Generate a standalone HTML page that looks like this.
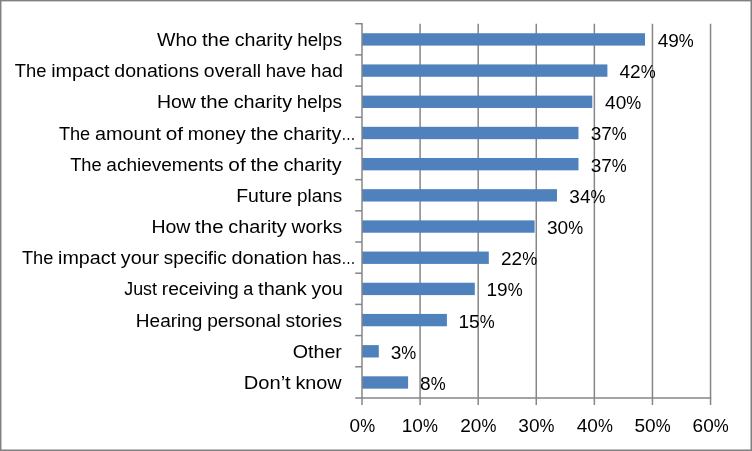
<!DOCTYPE html>
<html lang="en"><head><meta charset="utf-8"><title>Chart</title>
<style>
html,body{margin:0;padding:0;background:#fff;}
body{width:752px;height:451px;overflow:hidden;}
svg{display:block;}
text{font-family:"Liberation Sans",sans-serif;font-size:18.3px;fill:#000;white-space:pre;}
</style></head><body>
<svg width="752" height="451" viewBox="0 0 752 451">
<rect x="0" y="0" width="752" height="451" fill="#fff"/>

<line x1="420.09" y1="23.70" x2="420.09" y2="404.95" stroke="#868686" stroke-width="1.5"/>
<line x1="478.18" y1="23.70" x2="478.18" y2="404.95" stroke="#868686" stroke-width="1.5"/>
<line x1="536.27" y1="23.70" x2="536.27" y2="404.95" stroke="#868686" stroke-width="1.5"/>
<line x1="594.36" y1="23.70" x2="594.36" y2="404.95" stroke="#868686" stroke-width="1.5"/>
<line x1="652.45" y1="23.70" x2="652.45" y2="404.95" stroke="#868686" stroke-width="1.5"/>
<line x1="710.54" y1="23.70" x2="710.54" y2="404.95" stroke="#868686" stroke-width="1.5"/>
<rect x="362.00" y="33.24" width="283.00" height="12.35" fill="#4f81bd"/>
<rect x="362.00" y="64.43" width="245.40" height="12.35" fill="#4f81bd"/>
<rect x="362.00" y="95.62" width="230.30" height="12.35" fill="#4f81bd"/>
<rect x="362.00" y="126.81" width="216.50" height="12.35" fill="#4f81bd"/>
<rect x="362.00" y="157.99" width="216.50" height="12.35" fill="#4f81bd"/>
<rect x="362.00" y="189.18" width="195.00" height="12.35" fill="#4f81bd"/>
<rect x="362.00" y="220.37" width="172.60" height="12.35" fill="#4f81bd"/>
<rect x="362.00" y="251.56" width="126.80" height="12.35" fill="#4f81bd"/>
<rect x="362.00" y="282.74" width="112.80" height="12.35" fill="#4f81bd"/>
<rect x="362.00" y="313.93" width="84.90" height="12.35" fill="#4f81bd"/>
<rect x="362.00" y="345.12" width="16.80" height="12.35" fill="#4f81bd"/>
<rect x="362.00" y="376.31" width="46.10" height="12.35" fill="#4f81bd"/>
<line x1="362.00" y1="23.00" x2="362.00" y2="404.95" stroke="#868686" stroke-width="1.5"/>
<line x1="355.20" y1="397.95" x2="711.24" y2="397.95" stroke="#868686" stroke-width="1.5"/>
<line x1="355.20" y1="23.70" x2="362.00" y2="23.70" stroke="#868686" stroke-width="1.5"/>
<line x1="355.20" y1="54.89" x2="362.00" y2="54.89" stroke="#868686" stroke-width="1.5"/>
<line x1="355.20" y1="86.08" x2="362.00" y2="86.08" stroke="#868686" stroke-width="1.5"/>
<line x1="355.20" y1="117.26" x2="362.00" y2="117.26" stroke="#868686" stroke-width="1.5"/>
<line x1="355.20" y1="148.45" x2="362.00" y2="148.45" stroke="#868686" stroke-width="1.5"/>
<line x1="355.20" y1="179.64" x2="362.00" y2="179.64" stroke="#868686" stroke-width="1.5"/>
<line x1="355.20" y1="210.82" x2="362.00" y2="210.82" stroke="#868686" stroke-width="1.5"/>
<line x1="355.20" y1="242.01" x2="362.00" y2="242.01" stroke="#868686" stroke-width="1.5"/>
<line x1="355.20" y1="273.20" x2="362.00" y2="273.20" stroke="#868686" stroke-width="1.5"/>
<line x1="355.20" y1="304.39" x2="362.00" y2="304.39" stroke="#868686" stroke-width="1.5"/>
<line x1="355.20" y1="335.57" x2="362.00" y2="335.57" stroke="#868686" stroke-width="1.5"/>
<line x1="355.20" y1="366.76" x2="362.00" y2="366.76" stroke="#868686" stroke-width="1.5"/>
<text y="45.99"><tspan x="157.00" textLength="40.22" lengthAdjust="spacingAndGlyphs">Who</tspan> <tspan x="201.90" textLength="28.12" lengthAdjust="spacingAndGlyphs">the</tspan> <tspan x="234.70" textLength="57.84" lengthAdjust="spacingAndGlyphs">charity</tspan> <tspan x="297.23" textLength="44.81" lengthAdjust="spacingAndGlyphs">helps</tspan></text>
<text y="77.18"><tspan x="14.79" textLength="31.63" lengthAdjust="spacingAndGlyphs">The</tspan> <tspan x="51.16" textLength="58.44" lengthAdjust="spacingAndGlyphs">impact</tspan> <tspan x="114.34" textLength="84.79" lengthAdjust="spacingAndGlyphs">donations</tspan> <tspan x="203.87" textLength="57.15" lengthAdjust="spacingAndGlyphs">overall</tspan> <tspan x="265.75" textLength="40.36" lengthAdjust="spacingAndGlyphs">have</tspan> <tspan x="310.85" textLength="32.04" lengthAdjust="spacingAndGlyphs">had</tspan></text>
<text y="108.37"><tspan x="156.94" textLength="38.91" lengthAdjust="spacingAndGlyphs">How</tspan> <tspan x="200.57" textLength="28.38" lengthAdjust="spacingAndGlyphs">the</tspan> <tspan x="233.68" textLength="58.38" lengthAdjust="spacingAndGlyphs">charity</tspan> <tspan x="296.79" textLength="45.24" lengthAdjust="spacingAndGlyphs">helps</tspan></text>
<text y="139.56"><tspan x="58.89" textLength="31.36" lengthAdjust="spacingAndGlyphs">The</tspan> <tspan x="94.95" textLength="66.07" lengthAdjust="spacingAndGlyphs">amount</tspan> <tspan x="165.71" textLength="17.29" lengthAdjust="spacingAndGlyphs">of</tspan> <tspan x="187.69" textLength="58.05" lengthAdjust="spacingAndGlyphs">money</tspan> <tspan x="250.44" textLength="28.20" lengthAdjust="spacingAndGlyphs">the</tspan> <tspan x="283.33" textLength="58.00" lengthAdjust="spacingAndGlyphs">charity</tspan><tspan x="341.33" textLength="14.34" lengthAdjust="spacingAndGlyphs">…</tspan></text>
<text y="170.74"><tspan x="70.19" textLength="31.47" lengthAdjust="spacingAndGlyphs">The</tspan> <tspan x="106.37" textLength="117.27" lengthAdjust="spacingAndGlyphs">achievements</tspan> <tspan x="228.35" textLength="17.35" lengthAdjust="spacingAndGlyphs">of</tspan> <tspan x="250.41" textLength="28.30" lengthAdjust="spacingAndGlyphs">the</tspan> <tspan x="283.42" textLength="58.20" lengthAdjust="spacingAndGlyphs">charity</tspan></text>
<text y="201.93"><tspan x="236.24" textLength="56.10" lengthAdjust="spacingAndGlyphs">Future</tspan> <tspan x="297.08" textLength="45.05" lengthAdjust="spacingAndGlyphs">plans</tspan></text>
<text y="233.12"><tspan x="151.43" textLength="38.96" lengthAdjust="spacingAndGlyphs">How</tspan> <tspan x="195.13" textLength="28.43" lengthAdjust="spacingAndGlyphs">the</tspan> <tspan x="228.29" textLength="58.47" lengthAdjust="spacingAndGlyphs">charity</tspan> <tspan x="291.49" textLength="50.61" lengthAdjust="spacingAndGlyphs">works</tspan></text>
<text y="264.31"><tspan x="21.89" textLength="31.43" lengthAdjust="spacingAndGlyphs">The</tspan> <tspan x="58.03" textLength="58.08" lengthAdjust="spacingAndGlyphs">impact</tspan> <tspan x="120.82" textLength="38.34" lengthAdjust="spacingAndGlyphs">your</tspan> <tspan x="163.87" textLength="62.83" lengthAdjust="spacingAndGlyphs">specific</tspan> <tspan x="231.40" textLength="76.13" lengthAdjust="spacingAndGlyphs">donation</tspan> <tspan x="312.23" textLength="29.04" lengthAdjust="spacingAndGlyphs">has</tspan><tspan x="341.28" textLength="14.37" lengthAdjust="spacingAndGlyphs">…</tspan></text>
<text y="295.49"><tspan x="124.29" textLength="32.72" lengthAdjust="spacingAndGlyphs">Just</tspan> <tspan x="161.75" textLength="76.82" lengthAdjust="spacingAndGlyphs">receiving</tspan> <tspan x="243.31" textLength="10.05" lengthAdjust="spacingAndGlyphs">a</tspan> <tspan x="258.11" textLength="48.68" lengthAdjust="spacingAndGlyphs">thank</tspan> <tspan x="311.53" textLength="31.35" lengthAdjust="spacingAndGlyphs">you</tspan></text>
<text y="326.68"><tspan x="135.83" textLength="66.61" lengthAdjust="spacingAndGlyphs">Hearing</tspan> <tspan x="207.19" textLength="73.60" lengthAdjust="spacingAndGlyphs">personal</tspan> <tspan x="285.53" textLength="56.65" lengthAdjust="spacingAndGlyphs">stories</tspan></text>
<text y="357.87"><tspan x="292.77" textLength="49.11" lengthAdjust="spacingAndGlyphs">Other</tspan></text>
<text y="389.06"><tspan x="243.75" textLength="46.95" lengthAdjust="spacingAndGlyphs">Don’t</tspan> <tspan x="295.41" textLength="46.24" lengthAdjust="spacingAndGlyphs">know</tspan></text>
<text y="46.89"><tspan x="657.69" textLength="21.17" lengthAdjust="spacingAndGlyphs">49</tspan><tspan x="678.85" textLength="14.93" lengthAdjust="spacingAndGlyphs">%</tspan></text>
<text y="78.08"><tspan x="619.49" textLength="21.17" lengthAdjust="spacingAndGlyphs">42</tspan><tspan x="640.65" textLength="14.93" lengthAdjust="spacingAndGlyphs">%</tspan></text>
<text y="109.27"><tspan x="605.09" textLength="21.17" lengthAdjust="spacingAndGlyphs">40</tspan><tspan x="626.25" textLength="14.93" lengthAdjust="spacingAndGlyphs">%</tspan></text>
<text y="140.46"><tspan x="590.66" textLength="21.17" lengthAdjust="spacingAndGlyphs">37</tspan><tspan x="611.83" textLength="14.93" lengthAdjust="spacingAndGlyphs">%</tspan></text>
<text y="171.64"><tspan x="590.66" textLength="21.17" lengthAdjust="spacingAndGlyphs">37</tspan><tspan x="611.83" textLength="14.93" lengthAdjust="spacingAndGlyphs">%</tspan></text>
<text y="202.83"><tspan x="569.36" textLength="21.17" lengthAdjust="spacingAndGlyphs">34</tspan><tspan x="590.53" textLength="14.93" lengthAdjust="spacingAndGlyphs">%</tspan></text>
<text y="234.02"><tspan x="546.96" textLength="21.17" lengthAdjust="spacingAndGlyphs">30</tspan><tspan x="568.13" textLength="14.93" lengthAdjust="spacingAndGlyphs">%</tspan></text>
<text y="265.21"><tspan x="500.96" textLength="21.17" lengthAdjust="spacingAndGlyphs">22</tspan><tspan x="522.13" textLength="14.93" lengthAdjust="spacingAndGlyphs">%</tspan></text>
<text y="296.39"><tspan x="486.53" textLength="21.17" lengthAdjust="spacingAndGlyphs">19</tspan><tspan x="507.69" textLength="14.93" lengthAdjust="spacingAndGlyphs">%</tspan></text>
<text y="327.58"><tspan x="458.53" textLength="21.17" lengthAdjust="spacingAndGlyphs">15</tspan><tspan x="479.69" textLength="14.93" lengthAdjust="spacingAndGlyphs">%</tspan></text>
<text y="358.77"><tspan x="390.66" textLength="10.58" lengthAdjust="spacingAndGlyphs">3</tspan><tspan x="401.24" textLength="14.93" lengthAdjust="spacingAndGlyphs">%</tspan></text>
<text y="389.96"><tspan x="420.06" textLength="10.58" lengthAdjust="spacingAndGlyphs">8</tspan><tspan x="430.65" textLength="14.93" lengthAdjust="spacingAndGlyphs">%</tspan></text>
<text y="432.30"><tspan x="349.62" textLength="10.58" lengthAdjust="spacingAndGlyphs">0</tspan><tspan x="360.20" textLength="14.93" lengthAdjust="spacingAndGlyphs">%</tspan></text>
<text y="432.30"><tspan x="401.75" textLength="21.17" lengthAdjust="spacingAndGlyphs">10</tspan><tspan x="422.92" textLength="14.93" lengthAdjust="spacingAndGlyphs">%</tspan></text>
<text y="432.30"><tspan x="460.26" textLength="21.17" lengthAdjust="spacingAndGlyphs">20</tspan><tspan x="481.43" textLength="14.93" lengthAdjust="spacingAndGlyphs">%</tspan></text>
<text y="432.30"><tspan x="518.35" textLength="21.17" lengthAdjust="spacingAndGlyphs">30</tspan><tspan x="539.52" textLength="14.93" lengthAdjust="spacingAndGlyphs">%</tspan></text>
<text y="432.30"><tspan x="576.76" textLength="21.17" lengthAdjust="spacingAndGlyphs">40</tspan><tspan x="597.92" textLength="14.93" lengthAdjust="spacingAndGlyphs">%</tspan></text>
<text y="432.30"><tspan x="634.53" textLength="21.17" lengthAdjust="spacingAndGlyphs">50</tspan><tspan x="655.70" textLength="14.93" lengthAdjust="spacingAndGlyphs">%</tspan></text>
<text y="432.30"><tspan x="692.62" textLength="21.17" lengthAdjust="spacingAndGlyphs">60</tspan><tspan x="713.79" textLength="14.93" lengthAdjust="spacingAndGlyphs">%</tspan></text>
<rect x="0" y="0" width="752" height="1.4" fill="#808080"/>
<rect x="0" y="0" width="1.45" height="451" fill="#808080"/>
<rect x="750.5" y="0" width="1.5" height="451" fill="#808080"/>
<rect x="0" y="449.5" width="752" height="1.5" fill="#808080"/>
</svg></body></html>
